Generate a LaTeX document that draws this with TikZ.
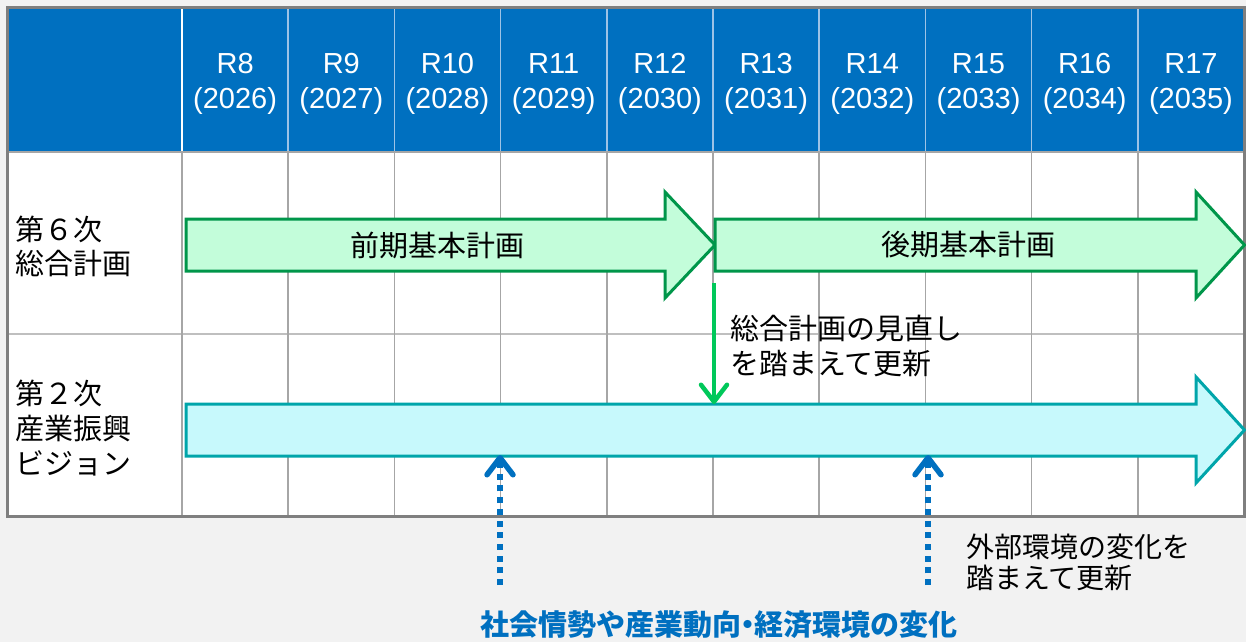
\documentclass[tikz,border=0pt]{standalone}
\usepackage{fontspec}
\setmainfont{Liberation Sans}
\newfontfamily\jp{Noto Sans CJK JP}
\usetikzlibrary{arrows.meta}
\definecolor{bgc}{HTML}{F2F2F2}
\definecolor{hdr}{HTML}{0070C0}
\definecolor{hdrline}{HTML}{9DC3E6}
\definecolor{gridc}{HTML}{A6A6A6}
\definecolor{gridh}{HTML}{BFBFBF}
\definecolor{outer}{HTML}{7F7F7F}
\definecolor{gfill}{HTML}{C3FDDA}
\definecolor{gline}{HTML}{00964A}
\definecolor{gdown}{HTML}{00C85A}
\definecolor{cfill}{HTML}{C7F9FC}
\definecolor{cline}{HTML}{00A5AA}
\definecolor{blu}{HTML}{0070C0}
\tikzset{
  hdrtxt/.style={text=white, font=\fontsize{29}{34}\selectfont, inner sep=0pt},
  rowlbl/.style={anchor=base west, font=\jp\fontsize{29}{34}\selectfont, inner sep=0pt},
  notetxt/.style={anchor=base west, font=\jp\fontsize{29}{34}\selectfont, inner sep=0pt},
  notetxtb/.style={anchor=base west, font=\jp\fontsize{28}{34}\selectfont, inner sep=0pt},
  arrtxt/.style={font=\jp\fontsize{29}{34}\selectfont, inner sep=0pt},
  garrow/.style={fill=gfill, draw=gline, line width=3pt, line join=miter},
  carrow/.style={fill=cfill, draw=cline, line width=3pt, line join=miter},
  greendown/.style={draw=gdown, line width=4.5pt, -{Straight Barb[round, length=17pt, width=26pt]}},
  bluedot/.style={draw=blu, line width=5.5pt, dash pattern=on 6pt off 5.7pt, -{Straight Barb[round, length=17pt, width=26pt]}},
  titletxt/.style={text=blu, font=\jp\bfseries\fontsize{29}{34}\selectfont, inner sep=0pt}
}
\begin{document}
\begin{tikzpicture}[x=1pt,y=-1pt]
\useasboundingbox (0,0) rectangle (1246,642);
\fill[bgc] (0,0) rectangle (1246,642);
% table
\fill[white] (7,8) rectangle (1244,516);
\fill[hdr] (7,8) rectangle (1244,152);
\draw[gridh, line width=2pt] (7,333.5) -- (1244,333.5);
\draw[white, line width=1.5pt] (182,8) -- (182,152);
\foreach \k in {1,...,9}{
  \draw[hdrline, line width=1.5pt] ({182+106.2*\k},8) -- ({182+106.2*\k},152);
}
\foreach \k in {0,...,9}{
  \draw[gridc, line width=1.5pt] ({182+106.2*\k},152) -- ({182+106.2*\k},516);
}
\draw[gridc, line width=2pt] (7,152) -- (1244,152);
\draw[outer, line width=3pt] (7,8) rectangle (1244,516);
% header text
\foreach \i [evaluate=\i as \cx using 182+106.2*(\i-7.5), evaluate=\i as \yr using int(2018+\i)] in {8,...,17}{
  \node[hdrtxt, anchor=base] (r\i) at (\cx,74) {R\i};
  \node[hdrtxt, anchor=base] (y\i) at (\cx,108) {(\yr)};
}
% row labels
\node[rowlbl] (l1a) at (15,240) {第６次};
\node[rowlbl] (l1b) at (15,274) {総合計画};
\node[rowlbl] (l2a) at (15,404) {第２次};
\node[rowlbl] (l2b) at (15,439) {産業振興};
\node[rowlbl] (l2c) at (15,474) {ビジョン};
% green arrows
\draw[garrow] (186,219) -- (665,219) -- (665,192) -- (715,245) -- (665,298) -- (665,271) -- (186,271) -- cycle;
\draw[garrow] (715,219) -- (1196,219) -- (1196,192) -- (1244.5,245) -- (1196,298) -- (1196,271) -- (715,271) -- cycle;
\node[arrtxt] (zenki) at (437,245) {前期基本計画};
\node[arrtxt] (kouki) at (968,245) {後期基本計画};
% cyan arrow
\draw[carrow] (186,404) -- (1196,404) -- (1196,377) -- (1244.5,430) -- (1196,483) -- (1196,456) -- (186,456) -- cycle;
% green down arrow
\coordinate (dn1) at (714,283);
\coordinate (dn2) at (714,404);
\draw[greendown] (dn1) -- (dn2);
\node[notetxt] (n1a) at (730,339) {総合計画の見直し};
\node[notetxt] (n1b) at (730,374) {を踏まえて更新};
% blue dotted arrows
\coordinate (b1s) at (500,585);
\coordinate (b1t) at (500,455);
\coordinate (b2s) at (928,585);
\coordinate (b2t) at (928,455);
\draw[bluedot] (b1s) -- (b1t);
\draw[bluedot] (b2s) -- (b2t);
\node[notetxtb] (n2a) at (966,557) {外部環境の変化を};
\node[notetxtb] (n2b) at (966,588) {踏まえて更新};
% title
\node[titletxt] (title) at (719,625) {社会情勢や産業動向\hspace{-0.28em}・\hspace{-0.28em}経済環境の変化};
\end{tikzpicture}
\end{document}
